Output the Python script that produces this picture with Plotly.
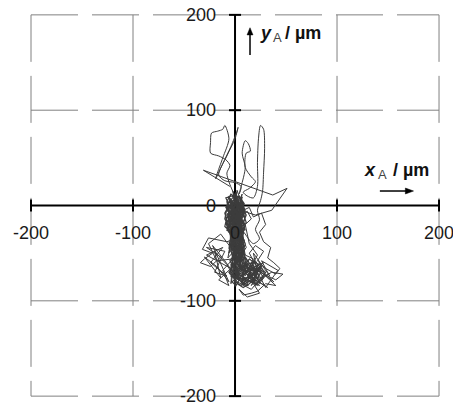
import plotly.graph_objects as go

# Trajectory of point A (µm)
# dense blob around the origin
blob_x = [0,-5,-9,-4,2,7,10,5,-2,-8,-10,-4,3,8,11,6,1,-4,-8,-6,0,6,9,4,-2,-7,-3,4,9,5,-1,-6,-10,-7,0,6,10,7,2,-3,
          -9,-5,1,7,3,-4,-8,-2,5,11,8,3,-2,-6,0,6,4,-1,-7,-10,-5,2,8,10,4,-3,-8,-4,3,9,6,0,-5,-2,5,1,-6,-9,-3,4,
          10,7,1,-5,-1,6,3,-4,-8,-2,4,8,2,-4,0,5,-3,-7,1,7,4,-2,-6,2]
blob_y = [0,6,-2,-10,-4,4,-6,-14,-18,-12,-22,-28,-24,-18,-10,0,8,12,4,-6,-12,-8,2,10,2,-16,-24,-30,-22,-12,-6,0,-8,-20,-26,-20,-14,-4,4,10,
          8,-2,-16,-26,-18,-14,-26,-30,-24,-18,-8,0,-10,-18,-22,-14,-4,6,2,-14,-24,-28,-28,-20,-10,-4,-10,-20,-14,-6,6,12,4,-8,-18,-26,-28,-18,-12,-22,
          -26,-16,-10,-14,-20,-28,-8,0,-6,4,2,-12,-20,-26,-16,-6,-18,-24,-30,-22,-14,-2,-12,-12]

# long back-and-forth strokes along the column
streak_x = [0,-6,7,-4,9,-7,5,-2,8,-6,2,10,-5,6,-7,3,11,-3,7,-6,1,9,-4,5,-8,8,0,-5,10,-1,6,-7,3,9,-4,2,-6,11,-1,7,
            -5,4,-8,8,0,-4,10,2,-6,7,-2,4,-7,9,1,-5,6,-1,11,-6,3,8,-4,0,7,-7,2,10,-3,5]
streak_y = [5,-20,12,-45,-5,-10,-60,15,-30,0,-75,-40,8,-55,-25,10,-70,-35,-15,-50,14,-80,-5,-65,-18,2,-85,-28,-52,12,-42,-8,-78,-22,6,-58,-38,-62,-12,9,
            -72,-32,-3,-48,-20,-82,-10,16,-45,-68,-26,4,-55,-36,-76,-14,-2,-64,-44,10,-30,-84,-48,-8,-58,-22,7,-74,-40,-16]

# narrower column and lower blob
col_x = [0,-4,3,8,2,-3,5,9,1,-5,4,7,-2,3,6,-1,-4,2,8,0,
         0,4,-2,3,8,12,6,1,-4,0,6,12,16,10,4,-2,2,8,14,20,18,12,6,0,-5,-1,5,10,15,20,14,8,2,-3,1,7,11,5,-1,3,
         9,6,2,-4,4,10,16,22,17,11,5,0,-6,-2,4,9,13,7,1,6,12,18,15,8,3,-2,2,7,4,0,5,11,6,0,-4,3,10,14,8]
col_y = [-32,-38,-44,-36,-30,-46,-50,-42,-36,-42,-48,-32,-40,-34,-46,-50,-34,-42,-48,-44,
         -50,-56,-62,-70,-64,-58,-52,-58,-66,-74,-80,-76,-68,-62,-66,-72,-82,-86,-82,-76,-66,-70,-74,-68,-58,-52,-60,-54,-62,-70,-74,-78,-76,-80,-84,-72,-66,-64,-60,-54,
         -48,-58,-66,-74,-78,-82,-78,-72,-60,-62,-70,-78,-70,-64,-72,-76,-84,-82,-72,-66,-72,-80,-70,-68,-62,-56,-48,-54,-62,-70,-76,-78,-84,-80,-62,-58,-70,-66,-60]

# lower right part of the lower cluster
lowr_x = [8,14,20,26,22,16,24,28,18,12,20,26,30,22,14,10,18,24,16,26,20,12,22,28,24,16,10,20,26,18,
          12,24,30,20,14,22,16,26,18,10]
lowr_y = [-60,-66,-58,-68,-76,-70,-80,-72,-64,-74,-82,-78,-70,-62,-56,-68,-76,-84,-80,-62,-70,-78,-66,-76,-82,-60,-72,-74,-64,-58,
          -80,-60,-74,-84,-66,-70,-84,-70,-68,-64]

# smooth loops above the origin
upper_x = [0,-5,-8,-5,-9,-16,-24,-24,-23,-17,-12,-10,-6,-12,-18,-19,-12,-4,2,3,0,-8,-16,-10,0,6,4,
           6,10,7,10,13,15,11,10,16,20,14,8,
           12,18,22,22,23,25,28,29,28,27,25,22,24,20,24,18,10,4]
upper_y = [10,22,34,42,48,52,55,66,76,78,80,84,70,50,32,28,44,62,78,82,70,52,32,26,24,20,12,
           20,40,55,68,65,57,55,40,30,25,18,14,
           10,8,20,45,70,84,80,60,35,15,5,-5,-15,-25,-35,-40,-30,-20]

# jagged scribbles: long stroke, right loops, left loops, lower part
scrib_x = [-5,-31,37,51,36,20,5,
           8,14,18,26,30,24,28,35,32,38,44,40,30,22,28,20,14,20,26,34,40,30,22,16,8,4,12,24,18,10,26,36,47,40,28,16,22,14,10,16,12,6,
           0,-8,-18,-26,-32,-22,-30,-34,-24,-14,-28,-10,-20,-8,-24,-12,-28,-4,-16,-6,-12,-2,-18,-26,-14,-6,0,
           6,18,12,26,8,20,32,14,28,4,22,10,30,16,2,
           -8,-20,-14,-30,-18,-6,-22,-10,-2,12,24,18,34,26,42,30,20,38,14,6]
scrib_y = [20,37,11,18,-5,-10,-5,
           -5,-2,-12,-8,-20,-28,-38,-44,-55,-60,-66,-72,-66,-58,-48,-42,-50,-62,-70,-78,-84,-82,-90,-92,-94,-88,-96,-92,-82,-76,-76,-70,-72,-78,-72,-64,-52,-40,-20,-14,-6,-10,
           -35,-38,-36,-34,-46,-50,-56,-60,-64,-54,-44,-48,-70,-74,-60,-44,-52,-66,-78,-84,-68,-56,-58,-40,-30,-42,-50,
           -50,-56,-70,-64,-82,-78,-86,-74,-60,-72,-84,-62,-70,-88,-80,
           -62,-48,-76,-54,-64,-80,-42,-58,-70,-60,-80,-50,-74,-58,-68,-86,-66,-80,-56,-68]

grid_vals = [-200, -100, 100, 200]
tick_vals = [-200, -100, 100, 200]
x_tick_labels = ["-200", "-100", "0", "100", "200"]
x_tick_pos = [-200, -100, 0, 100, 200]
y_tick_labels = ["-200", "-100", "0", "100", "200"]
y_tick_pos = [-200, -100, 0, 100, 200]

FONT = "Liberation Sans, Arial, sans-serif"
TRACE_COLOR = "#3c3c3c"

fig = go.Figure()
for xs, ys, w in [(streak_x, streak_y, 1), (blob_x, blob_y, 1.2), (col_x, col_y, 1.2),
                  (lowr_x, lowr_y, 1), (scrib_x, scrib_y, 1)]:
    fig.add_trace(go.Scatter(x=xs, y=ys, mode="lines",
                             line=dict(color=TRACE_COLOR, width=w), hoverinfo="skip", showlegend=False))
fig.add_trace(go.Scatter(x=upper_x, y=upper_y, mode="lines",
                         line=dict(color=TRACE_COLOR, width=1, shape="spline", smoothing=0.8),
                         hoverinfo="skip", showlegend=False))

shapes = []
for v in grid_vals:
    shapes.append(dict(type="line", xref="x", yref="y", x0=v, x1=v, y0=200, y1=-200,
                       line=dict(color="#808080", width=1, dash="47px,14px"), layer="below"))
    shapes.append(dict(type="line", xref="x", yref="y", x0=-200, x1=200, y0=v, y1=v,
                       line=dict(color="#808080", width=1, dash="47px,14px"), layer="below"))
# main axes
shapes.append(dict(type="line", xref="x", yref="y", x0=-200, x1=200, y0=0, y1=0,
                   line=dict(color="black", width=2), layer="below"))
shapes.append(dict(type="line", xref="x", yref="y", x0=0, x1=0, y0=-200, y1=200,
                   line=dict(color="black", width=2), layer="below"))
for v in tick_vals:
    shapes.append(dict(type="line", xref="x", yref="y", x0=v, x1=v, y0=-6.3, y1=6.3,
                       line=dict(color="black", width=2), layer="below"))
    shapes.append(dict(type="line", xref="x", yref="y", x0=-5.9, x1=5.9, y0=v, y1=v,
                       line=dict(color="black", width=2), layer="below"))
# direction arrows next to the axis titles
shapes.append(dict(type="line", xref="x", yref="y", x0=142, x1=168, y0=15.2, y1=15.2,
                   line=dict(color="black", width=1.5)))
shapes.append(dict(type="path", xref="x", yref="y", path="M 167,12.1 L 175,15.2 L 167,18.3 Z",
                   fillcolor="black", line=dict(color="black", width=0.5)))
shapes.append(dict(type="line", xref="x", yref="y", x0=14.7, x1=14.7, y0=158, y1=180,
                   line=dict(color="black", width=1.5)))
shapes.append(dict(type="path", xref="x", yref="y", path="M 11.8,179 L 14.7,186.5 L 17.6,179 Z",
                   fillcolor="black", line=dict(color="black", width=0.5)))

annotations = []
for lab, v in zip(x_tick_labels, x_tick_pos):
    annotations.append(dict(x=v, y=-28.9, xref="x", yref="y", text=lab, showarrow=False,
                            xanchor="center", yanchor="middle",
                            font=dict(family=FONT, size=18, color="#1a1a1a")))
for lab, v in zip(y_tick_labels, y_tick_pos):
    annotations.append(dict(x=-16.7, y=v, xref="x", yref="y", text=lab, showarrow=False,
                            xanchor="right", yanchor="middle",
                            font=dict(family=FONT, size=18, color="#1a1a1a")))

# axis titles, each piece placed separately (variable, subscript, unit)
def add_title(var, x_var, x_sub, x_unit, y_main):
    annotations.append(dict(x=x_var, y=y_main, xref="x", yref="y", text="<b><i>" + var + "</i></b>",
                            showarrow=False, xanchor="center", yanchor="middle",
                            font=dict(family=FONT, size=18, color="#111")))
    annotations.append(dict(x=x_sub, y=y_main - 4.5, xref="x", yref="y", text="A",
                            showarrow=False, xanchor="center", yanchor="middle",
                            font=dict(family=FONT, size=13, color="#444")))
    annotations.append(dict(x=x_unit, y=y_main, xref="x", yref="y", text="<b>/ µm</b>",
                            showarrow=False, xanchor="left", yanchor="middle",
                            font=dict(family=FONT, size=18, color="#111")))

add_title("x", 132.4, 144.6, 152.5, 37.5)
add_title("y", 30.4, 41.7, 47.5, 180.5)

fig.update_layout(
    width=453, height=405, margin=dict(l=0, r=0, t=0, b=0),
    paper_bgcolor="white", plot_bgcolor="white",
    xaxis=dict(range=[-230.4, 213.7], visible=False, fixedrange=True),
    yaxis=dict(range=[-209.3, 215.6], visible=False, fixedrange=True),
    shapes=shapes, annotations=annotations, showlegend=False,
)
fig.write_html("out.html")
